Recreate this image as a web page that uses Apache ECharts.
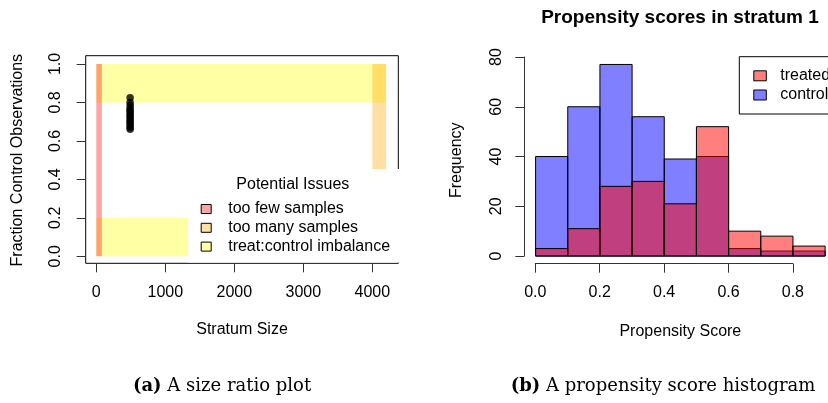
<!DOCTYPE html>
<html><head><meta charset="utf-8">
<script src="https://cdn.jsdelivr.net/npm/echarts@6/dist/echarts.min.js"></script>
<style>html,body{margin:0;padding:0;background:#fff}#c{width:828px;height:403px}</style>
</head><body><div id="c"></div>
<script>
// ---------- panel (a): size ratio plot ----------
const strataSize  = [490, 489, 491, 490, 488, 492, 490, 489, 491, 490, 488, 492, 490, 489, 491];
const fracControl = [0.825, 0.80, 0.785, 0.77, 0.76, 0.75, 0.74, 0.73, 0.72, 0.71, 0.70, 0.69, 0.68, 0.67, 0.66];
const issueNames = ['too few samples', 'too many samples', 'treat:control imbalance'];
// rectangles: [xStart, xEnd, yStart, yEnd]
const fewSamplesRects  = [[0, 80, 0, 1]];
const manySamplesRects = [[4000, 4200, 0, 1]];
const imbalanceRects   = [[0, 4200, 0.8, 1], [0, 4200, 0, 0.2]];
const sizeTicks = [0, 1000, 2000, 3000, 4000];
const fracTicks = [0, 0.2, 0.4, 0.6, 0.8, 1.0];

// ---------- panel (b): propensity histogram ----------
const binStarts = [0.0, 0.1, 0.2, 0.3, 0.4, 0.5, 0.6, 0.7, 0.8];
const binEnds   = [0.1, 0.2, 0.3, 0.4, 0.5, 0.6, 0.7, 0.8, 0.9];
const controlCounts = [40, 60, 77, 56, 39, 40, 3, 2, 2];
const treatedCounts = [3, 11, 28, 30, 21, 52, 10, 8, 4];
const scoreTicks = [0.0, 0.2, 0.4, 0.6, 0.8];
const freqTicks  = [0, 20, 40, 60, 80];

const SANS = 'Liberation Sans, Arial, Helvetica, sans-serif';
const SERIF = 'DejaVu Serif, serif';
const AX = '#333';

function rectItem(params, api) {
  const a = api.coord([api.value(0), api.value(3)]);
  const b = api.coord([api.value(1), api.value(2)]);
  return { type: 'rect', shape: { x: a[0], y: a[1], width: b[0] - a[0], height: b[1] - a[1] },
           style: { fill: api.visual('color') } };
}
function histItem(params, api) {
  const a = api.coord([api.value(0), api.value(2)]);
  const b = api.coord([api.value(1), 0]);
  return { type: 'rect', shape: { x: a[0], y: a[1], width: b[0] - a[0], height: b[1] - a[1] },
           style: { fill: api.visual('color'), stroke: '#000', lineWidth: 1 } };
}
const hidden = { axisLine: { show: false }, axisTick: { show: false }, axisLabel: { show: false }, splitLine: { show: false } };
const g = (o) => Object.assign({ containLabel: false, outerBoundsMode: 'none' }, o);
const tickAxis = (gridIndex, ticks, fmt, extra) => Object.assign({
  type: 'value', gridIndex, min: ticks[0], max: ticks[ticks.length - 1], interval: ticks[1] - ticks[0],
  axisLine: { show: true, lineStyle: { color: AX, width: 1 } },
  axisTick: { show: true, length: 9, inside: false, lineStyle: { color: AX, width: 1 } },
  axisLabel: { show: true, color: '#000', fontSize: 16, fontFamily: SANS, formatter: fmt },
  splitLine: { show: false }
}, extra || {});

const chart = echarts.init(document.getElementById('c'), null, { renderer: 'canvas' });
chart.setOption({
  animation: false,
  backgroundColor: '#fff',
  title: [
    { text: 'Propensity scores in stratum 1', left: 680, top: 8, textAlign: 'center', padding: 0,
      textStyle: { fontSize: 19, fontWeight: 'bold', fontFamily: SANS, color: '#000' } },
    { text: 'Potential Issues', left: 292.8, top: 176.5, textAlign: 'center', padding: 0, z: 100,
      textStyle: { fontSize: 16, fontWeight: 'normal', fontFamily: SANS, color: '#000' } }
  ],
  grid: [
    g({ left: 85.7, top: 55.7, width: 312.6, height: 207.6, show: true, borderColor: '#000', borderWidth: 1, backgroundColor: 'transparent' }),
    g({ left: 96.3, top: 262.3, width: 276, height: 1 }),
    g({ left: 85.7, top: 64, width: 1, height: 192.3 }),
    g({ left: 524, top: 56.8, width: 312.7, height: 206.9 }),
    g({ left: 535.3, top: 262.7, width: 257.6, height: 1 }),
    g({ left: 524.3, top: 57, width: 1, height: 199 })
  ],
  xAxis: [
    Object.assign({ type: 'value', gridIndex: 0, min: -154, max: 4377, name: 'Stratum Size', nameLocation: 'middle', nameGap: 58,
      nameTextStyle: { fontSize: 16, fontFamily: SANS, color: '#000' } }, hidden),
    tickAxis(1, sizeTicks, (v) => String(Math.round(v)), { axisLabel: { show: true, color: '#000', fontSize: 16, fontFamily: SANS, margin: 21, formatter: (v) => String(Math.round(v)) } }),
    Object.assign({ type: 'value', gridIndex: 2, show: false }, hidden),
    Object.assign({ type: 'value', gridIndex: 3, min: -0.036, max: 0.936, name: 'Propensity Score', nameLocation: 'middle', nameGap: 60,
      nameTextStyle: { fontSize: 16, fontFamily: SANS, color: '#000' } }, hidden),
    tickAxis(4, scoreTicks, (v) => v.toFixed(1), { axisLabel: { show: true, color: '#000', fontSize: 16, fontFamily: SANS, margin: 21, formatter: (v) => v.toFixed(1) } }),
    Object.assign({ type: 'value', gridIndex: 5, show: false }, hidden)
  ],
  yAxis: [
    Object.assign({ type: 'value', gridIndex: 0, min: -0.0364, max: 1.043 }, hidden),
    Object.assign({ type: 'value', gridIndex: 1, show: false }, hidden),
    tickAxis(2, fracTicks, (v) => v.toFixed(1), { name: 'Fraction Control Observations', nameLocation: 'middle', nameGap: 60,
      nameTextStyle: { fontSize: 16, fontFamily: SANS, color: '#000' },
      axisLabel: { show: true, color: '#000', fontSize: 16, fontFamily: SANS, rotate: 90, margin: 22, formatter: (v) => v.toFixed(1) } }),
    Object.assign({ type: 'value', gridIndex: 3, min: -3.08, max: 80.08, name: 'Frequency', nameLocation: 'middle', nameGap: 59,
      nameTextStyle: { fontSize: 16, fontFamily: SANS, color: '#000' } }, hidden),
    Object.assign({ type: 'value', gridIndex: 4, show: false }, hidden),
    tickAxis(5, freqTicks, (v) => String(Math.round(v)), { axisLabel: { show: true, color: '#000', fontSize: 16, fontFamily: SANS, rotate: 90, margin: 20, formatter: (v) => String(Math.round(v)) } })
  ],
  legend: [
    { data: issueNames, orient: 'vertical', left: 200.7, top: 201, padding: 0, itemGap: 2.8, itemWidth: 10, itemHeight: 9,
      icon: 'rect', z: 100, selectedMode: false,
      itemStyle: { borderColor: '#000', borderWidth: 1 },
      textStyle: { fontSize: 16, fontFamily: SANS, color: '#000', padding: [0, 0, 0, 12] } },
    { data: ['treated', 'control'], orient: 'vertical', left: 753.3, top: 67.8, padding: 0, itemGap: 3.2, itemWidth: 12.5, itemHeight: 10,
      icon: 'rect', z: 100, selectedMode: false,
      itemStyle: { borderColor: '#000', borderWidth: 1 },
      textStyle: { fontSize: 16, fontFamily: SANS, color: '#000', padding: [0, 0, 0, 9] } }
  ],
  series: [
    { type: 'custom', name: issueNames[2], xAxisIndex: 0, yAxisIndex: 0, renderItem: rectItem, z: 2,
      itemStyle: { color: 'rgba(255,255,0,0.36)' }, encode: { x: [0, 1], y: [2, 3] }, data: imbalanceRects },
    { type: 'custom', name: issueNames[0], xAxisIndex: 0, yAxisIndex: 0, renderItem: rectItem, z: 2,
      itemStyle: { color: 'rgba(255,0,0,0.36)' }, encode: { x: [0, 1], y: [2, 3] }, data: fewSamplesRects },
    { type: 'custom', name: issueNames[1], xAxisIndex: 0, yAxisIndex: 0, renderItem: rectItem, z: 2,
      itemStyle: { color: 'rgba(255,165,0,0.36)' }, encode: { x: [0, 1], y: [2, 3] }, data: manySamplesRects },
    { type: 'scatter', name: 'strata', xAxisIndex: 0, yAxisIndex: 0, z: 3, symbol: 'circle', symbolSize: 7.5,
      itemStyle: { color: '#000' }, data: strataSize.map((s, i) => [s, fracControl[i]]) },
    { type: 'custom', name: 'control', xAxisIndex: 3, yAxisIndex: 3, renderItem: histItem, z: 2,
      itemStyle: { color: 'rgba(0,0,255,0.5)' }, encode: { x: [0, 1], y: 2 },
      data: binStarts.map((s, i) => [s, binEnds[i], controlCounts[i]]) },
    { type: 'custom', name: 'treated', xAxisIndex: 3, yAxisIndex: 3, renderItem: histItem, z: 3,
      itemStyle: { color: 'rgba(255,0,0,0.5)' }, encode: { x: [0, 1], y: 2 },
      data: binStarts.map((s, i) => [s, binEnds[i], treatedCounts[i]]) }
  ],
  graphic: [
    { type: 'rect', z: 50, shape: { x: 188, y: 169, width: 215, height: 93.5 }, style: { fill: '#fff' } },
    { type: 'rect', z: 50, shape: { x: 739.3, y: 56.7, width: 120, height: 57.3 }, style: { fill: '#fff', stroke: '#000', lineWidth: 1 } },
    { type: 'text', z: 50, x: 222, y: 386,
      style: { text: '{b|(a)} A size ratio plot', align: 'center', verticalAlign: 'middle', fontSize: 18, fontFamily: SERIF, fill: '#000',
               rich: { b: { fontWeight: 'bold', fontSize: 18, fontFamily: SERIF, fill: '#000' } } } },
    { type: 'text', z: 50, x: 663, y: 386,
      style: { text: '{b|(b)} A propensity score histogram', align: 'center', verticalAlign: 'middle', fontSize: 18, fontFamily: SERIF, fill: '#000',
               rich: { b: { fontWeight: 'bold', fontSize: 18, fontFamily: SERIF, fill: '#000' } } } }
  ]
});
</script></body></html>
